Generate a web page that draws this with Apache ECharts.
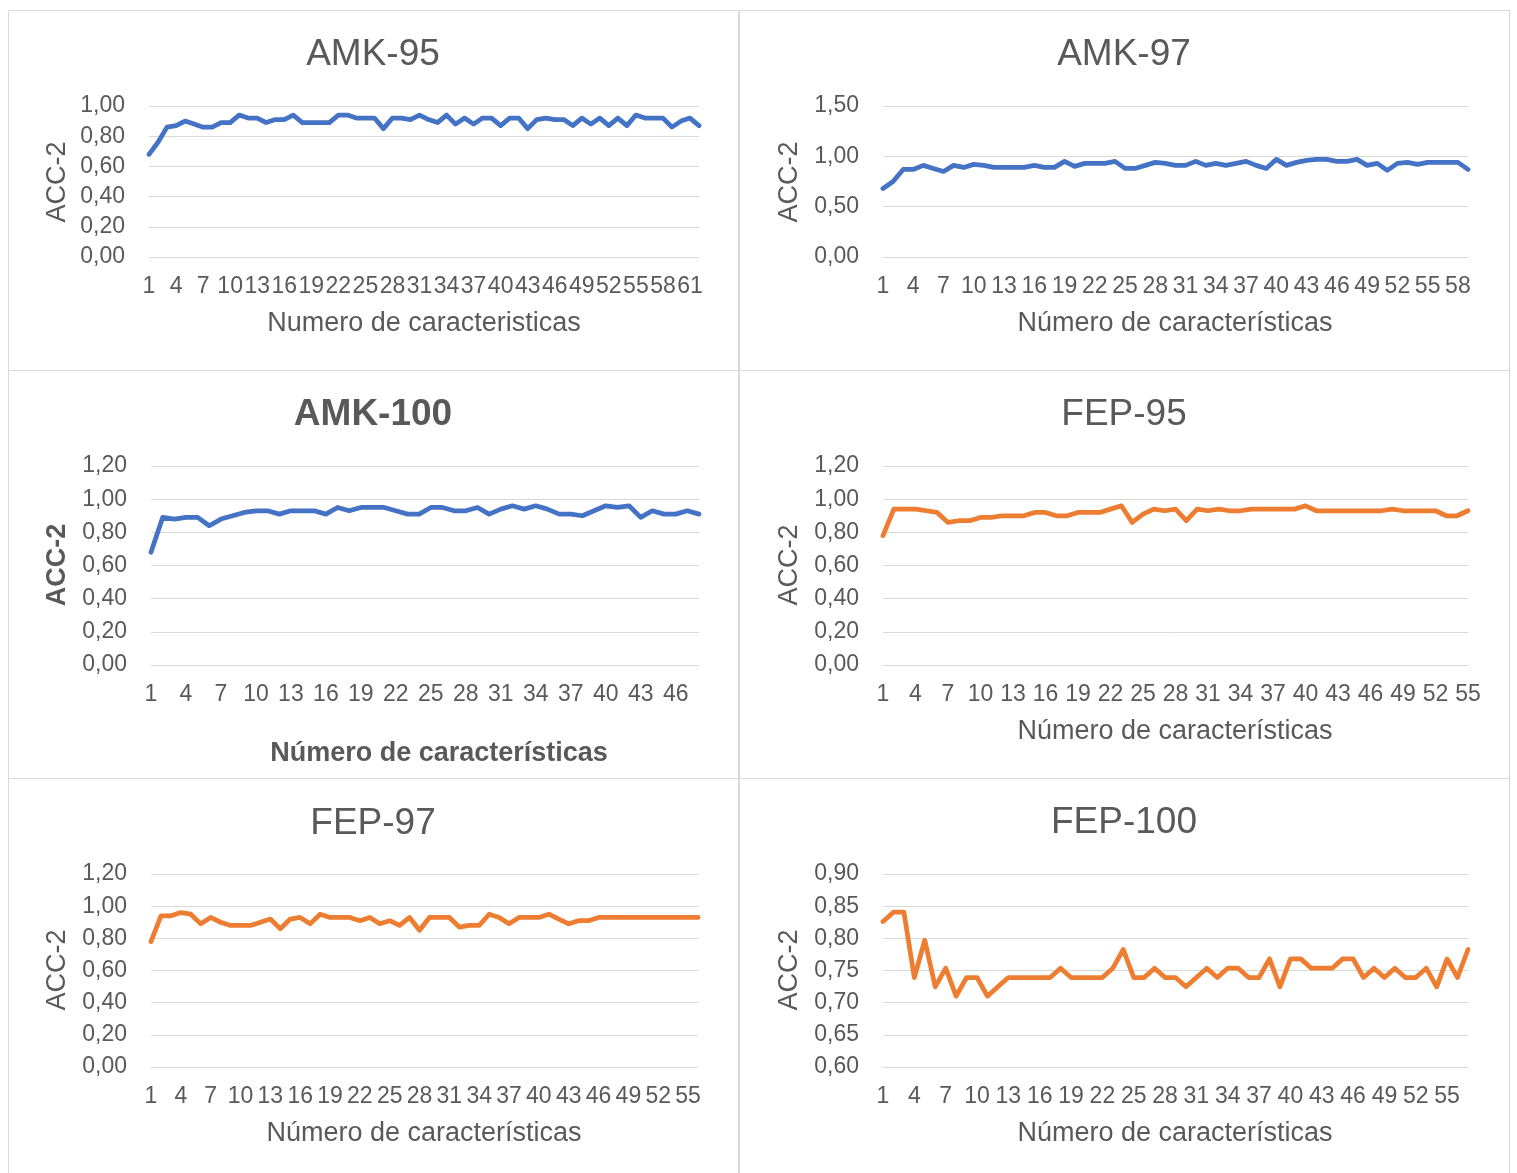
<!DOCTYPE html>
<html>
<head>
<meta charset="utf-8">
<title>ACC-2 por número de características</title>
<script src="https://cdn.jsdelivr.net/npm/echarts@6/dist/echarts.min.js"></script>
<style>
  html, body { margin: 0; padding: 0; background: #ffffff; }
  #chart { width: 1517px; height: 1173px; }
</style>
</head>
<body>
<div id="chart"></div>
<script>
// ACC-2 values per number of selected features
const amk95 = [0.68,0.76,0.86,0.87,0.90,0.88,0.86,0.86,0.89,0.89,
  0.94,0.92,0.92,0.89,0.91,0.91,0.94,0.89,0.89,0.89,
  0.89,0.94,0.94,0.92,0.92,0.92,0.85,0.92,0.92,0.91,
  0.94,0.91,0.89,0.94,0.88,0.92,0.88,0.92,0.92,0.87,
  0.92,0.92,0.85,0.91,0.92,0.91,0.91,0.87,0.92,0.88,
  0.92,0.87,0.92,0.87,0.94,0.92,0.92,0.92,0.86,0.90,
  0.92,0.87];

const amk97 = [0.68,0.75,0.87,0.87,0.91,0.88,0.85,0.91,0.89,0.92,
  0.91,0.89,0.89,0.89,0.89,0.91,0.89,0.89,0.95,0.90,
  0.93,0.93,0.93,0.95,0.88,0.88,0.91,0.94,0.93,0.91,
  0.91,0.95,0.91,0.93,0.91,0.93,0.95,0.91,0.88,0.97,
  0.91,0.94,0.96,0.97,0.97,0.95,0.95,0.97,0.91,0.93,
  0.86,0.93,0.94,0.92,0.94,0.94,0.94,0.94,0.87];

const amk100 = [0.68,0.89,0.88,0.89,0.89,0.84,0.88,0.90,0.92,0.93,
  0.93,0.91,0.93,0.93,0.93,0.91,0.95,0.93,0.95,0.95,
  0.95,0.93,0.91,0.91,0.95,0.95,0.93,0.93,0.95,0.91,
  0.94,0.96,0.94,0.96,0.94,0.91,0.91,0.90,0.93,0.96,
  0.95,0.96,0.89,0.93,0.91,0.91,0.93,0.91];

const fep95 = [0.78,0.94,0.94,0.94,0.93,0.92,0.86,0.87,0.87,0.89,
  0.89,0.90,0.90,0.90,0.92,0.92,0.90,0.90,0.92,0.92,
  0.92,0.94,0.96,0.86,0.91,0.94,0.93,0.94,0.87,0.94,
  0.93,0.94,0.93,0.93,0.94,0.94,0.94,0.94,0.94,0.96,
  0.93,0.93,0.93,0.93,0.93,0.93,0.93,0.94,0.93,0.93,
  0.93,0.93,0.90,0.90,0.93];

const fep97 = [0.78,0.94,0.94,0.96,0.95,0.89,0.93,0.90,0.88,0.88,
  0.88,0.90,0.92,0.86,0.92,0.93,0.89,0.95,0.93,0.93,
  0.93,0.91,0.93,0.89,0.91,0.88,0.93,0.85,0.93,0.93,
  0.93,0.87,0.88,0.88,0.95,0.93,0.89,0.93,0.93,0.93,
  0.95,0.92,0.89,0.91,0.91,0.93,0.93,0.93,0.93,0.93,
  0.93,0.93,0.93,0.93,0.93,0.93];

const fep100 = [0.8261,0.8406,0.8406,0.7391,0.7971,0.7246,0.7536,0.7101,0.7391,0.7391,
  0.7101,0.7246,0.7391,0.7391,0.7391,0.7391,0.7391,0.7536,0.7391,0.7391,
  0.7391,0.7391,0.7536,0.7826,0.7391,0.7391,0.7536,0.7391,0.7391,0.7246,
  0.7391,0.7536,0.7391,0.7536,0.7536,0.7391,0.7391,0.7681,0.7246,0.7681,
  0.7681,0.7536,0.7536,0.7536,0.7681,0.7681,0.7391,0.7536,0.7391,0.7536,
  0.7391,0.7391,0.7536,0.7246,0.7681,0.7391,0.7826];

// Y axis scales: [min, max, step]
const yScaleAmk95 = [0, 1.0, 0.2];
const yScaleAmk97 = [0, 1.5, 0.5];
const yScaleAmk100 = [0, 1.2, 0.2];
const yScaleFep95 = [0, 1.2, 0.2];
const yScaleFep97 = [0, 1.2, 0.2];
const yScaleFep100 = [0.6, 0.9, 0.05];

// Titles
const titles = ['AMK-95', 'AMK-97', 'AMK-100', 'FEP-95', 'FEP-97', 'FEP-100'];
const xTitles = ['Numero de caracteristicas', 'Número de características', 'Número de características',
                 'Número de características', 'Número de características', 'Número de características'];
const yTitle = 'ACC-2';

// Category labels 1..n for each series
function featureCounts(values) {
  return values.map((_, i) => String(i + 1));
}

const BLUE = '#4472C4';
const ORANGE = '#ED7D31';
const GRID_COLOR = '#d9d9d9';
const TEXT = '#595959';
const FONT = '"Liberation Sans", Arial, Helvetica, sans-serif';

// Layout of each panel: frame box, plot area, text anchors
const panels = [
  { values: amk95,  scale: yScaleAmk95,  color: BLUE,   bold: false,
    frame: [8, 10, 730, 360],  plot: [149, 106, 550, 151],
    titleAt: [373, 55], yTitleAt: [58, 182], xTitleAt: [424, 324] },
  { values: amk97,  scale: yScaleAmk97,  color: BLUE,   bold: false,
    frame: [739, 10, 770, 360], plot: [883, 106, 585, 151],
    titleAt: [1124, 55], yTitleAt: [790, 182], xTitleAt: [1175, 324] },
  { values: amk100, scale: yScaleAmk100, color: BLUE,   bold: true,
    frame: [8, 370, 730, 408],  plot: [151, 466, 548, 199],
    titleAt: [373, 415], yTitleAt: [58, 565], xTitleAt: [439, 754] },
  { values: fep95,  scale: yScaleFep95,  color: ORANGE, bold: false,
    frame: [739, 370, 770, 408], plot: [883, 466, 585, 199],
    titleAt: [1124, 415], yTitleAt: [790, 565], xTitleAt: [1175, 732] },
  { values: fep97,  scale: yScaleFep97,  color: ORANGE, bold: false,
    frame: [8, 778, 730, 420],  plot: [151, 874, 547, 193],
    titleAt: [373, 824], yTitleAt: [58, 970], xTitleAt: [424, 1134] },
  { values: fep100, scale: yScaleFep100, color: ORANGE, bold: false,
    frame: [739, 778, 770, 420], plot: [883, 874, 585, 193],
    titleAt: [1124, 823], yTitleAt: [790, 970], xTitleAt: [1175, 1134] }
];

const grid = [], xAxis = [], yAxis = [], series = [], graphic = [];

panels.forEach((p, k) => {
  const [gx, gy, gw, gh] = p.plot;
  grid.push({ left: gx, top: gy, width: gw, height: gh, containLabel: false });

  xAxis.push({
    gridIndex: k, type: 'category', boundaryGap: false,
    data: featureCounts(p.values),
    axisTick: { show: false },
    axisLine: { show: true, lineStyle: { color: GRID_COLOR, width: 1 } },
    axisLabel: { interval: 2, color: TEXT, fontSize: 23, fontFamily: FONT, margin: 18 },
    splitLine: { show: false }
  });

  yAxis.push({
    gridIndex: k, type: 'value',
    min: p.scale[0], max: p.scale[1], interval: p.scale[2],
    axisLine: { show: false }, axisTick: { show: false },
    axisLabel: {
      color: TEXT, fontSize: 23, fontFamily: FONT, margin: 24,
      padding: [4, 0, 0, 0],
      formatter: v => v.toFixed(2).replace('.', ',')
    },
    splitLine: { show: true, lineStyle: { color: GRID_COLOR, width: 1 } }
  });

  series.push({
    type: 'line', xAxisIndex: k, yAxisIndex: k,
    data: p.values, symbol: 'none', smooth: false,
    lineStyle: { color: p.color, width: 4.75, cap: 'round', join: 'round' },
    itemStyle: { color: p.color }
  });

  // chart frame
  graphic.push({
    type: 'rect', z: -10, silent: true,
    shape: { x: p.frame[0] + 0.5, y: p.frame[1] + 0.5, width: p.frame[2], height: p.frame[3] },
    style: { fill: '#ffffff', stroke: GRID_COLOR, lineWidth: 1 }
  });

  // chart title
  graphic.push({
    type: 'text', x: p.titleAt[0], y: p.titleAt[1],
    style: {
      text: titles[k], fill: TEXT, textAlign: 'center', textVerticalAlign: 'middle',
      font: (p.bold ? 'bold ' : '') + '37px ' + FONT
    }
  });

  // y axis title
  graphic.push({
    type: 'text', x: p.yTitleAt[0], y: p.yTitleAt[1], rotation: Math.PI / 2,
    style: {
      text: yTitle, fill: TEXT, textAlign: 'center', textVerticalAlign: 'middle',
      font: (p.bold ? 'bold ' : '') + '27px ' + FONT
    }
  });

  // x axis title
  graphic.push({
    type: 'text', x: p.xTitleAt[0], y: p.xTitleAt[1],
    style: {
      text: xTitles[k], fill: TEXT, textAlign: 'center', textVerticalAlign: 'middle',
      font: (p.bold ? 'bold ' : '') + '27px ' + FONT
    }
  });
});

const chart = echarts.init(document.getElementById('chart'), null, { renderer: 'canvas' });
chart.setOption({
  backgroundColor: '#ffffff',
  animation: false,
  grid, xAxis, yAxis, series, graphic
});
</script>
</body>
</html>
